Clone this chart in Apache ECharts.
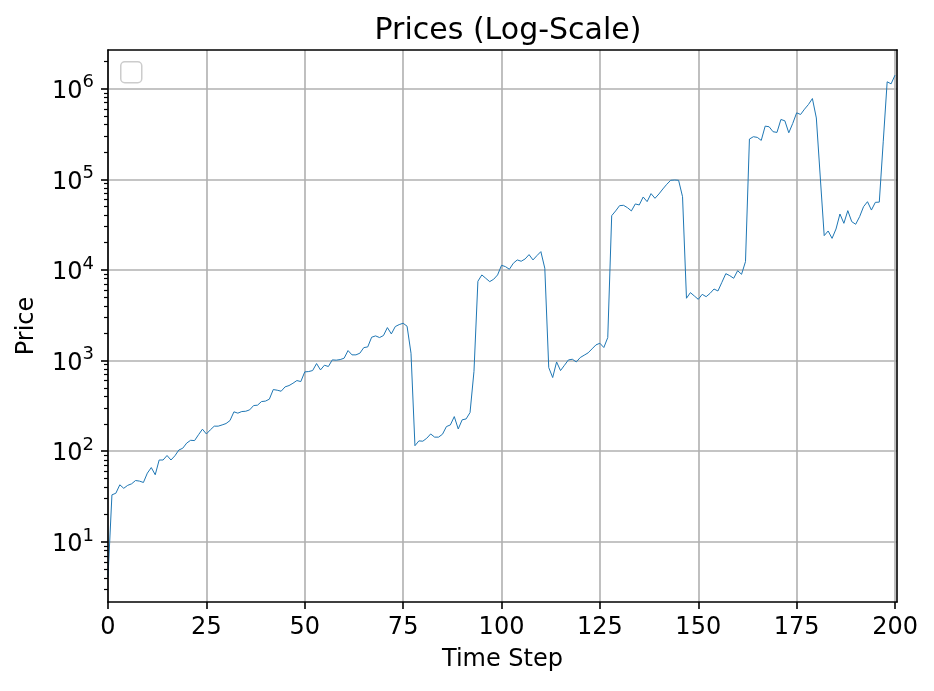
<!DOCTYPE html>
<html>
<head>
<meta charset="utf-8">
<script src="https://cdn.jsdelivr.net/npm/echarts@6/dist/echarts.min.js"></script>
<style>
html,body{margin:0;padding:0;background:#fff;}
#c{width:934px;height:691px;}
</style>
</head>
<body>
<div id="c"></div>
<script>
// ---- data ----
const titleText = 'Prices (Log-Scale)';
const xName = 'Time Step';
const yName = 'Price';
const xTicks = [0, 25, 50, 75, 100, 125, 150, 175, 200];
const yTicks = [10, 100, 1000, 10000, 100000, 1000000];
const prices = [
  4.1, 33, 34.4, 42.6, 39, 42, 43.7, 47.5, 46.8, 45.2,
  57.3, 66, 55, 80, 80, 89.7, 80, 89, 103, 108,
  123, 132, 131, 152, 175, 155, 172, 189, 189, 195,
  202, 218, 272, 263, 274, 276, 286, 319, 322, 353,
  357, 375, 479, 471, 459, 513, 530, 562, 602, 587,
  750, 757, 776, 927, 789, 889, 860, 1018, 1010, 1026,
  1062, 1290, 1156, 1156, 1206, 1390, 1415, 1810, 1872, 1795,
  1888, 2312, 1968, 2373, 2495, 2582, 2393, 1205, 115, 130,
  129, 139, 155, 143, 143, 154, 187, 195, 241, 176,
  222, 227, 267, 760, 7500, 8810, 8090, 7430, 7890, 8810,
  11250, 10880, 10170, 11850, 12890, 12470, 13220, 14760, 12890, 14390,
  15920, 10430, 838, 650, 966, 776, 888, 1016, 1034, 966,
  1080, 1146, 1216, 1346, 1490, 1553, 1393, 1795, 39700, 44770,
  51200, 51640, 48650, 44770, 53460, 52100, 63800, 56700, 69500, 61700,
  68900, 78200, 88100, 97500, 98200, 97500, 64300, 4870, 5620, 5160,
  4740, 5380, 5070, 5520, 6160, 5860, 7300, 9100, 8650, 8090,
  9810, 8950, 12360, 278000, 295000, 290000, 268600, 386000, 380000, 335000,
  329000, 457000, 442000, 326000, 413000, 541000, 519000, 594000, 669000, 778000,
  475000, 106000, 23900, 26900, 22300, 28300, 41400, 32700, 45100, 34100,
  31900, 38700, 49900, 56600, 45800, 55700, 56000, 259000, 1190000, 1130000,
  1410000
];
const steps = prices.map((_, i) => i);

// ---- layout constants ----
const X_MIN = 0, X_MAX = 200.5;
const Y_MIN = 2.17, Y_MAX = 2.67e6;
const FONT = 'DejaVu Sans';

const minorTicks = [];
for (let e = 0; e <= 6; e++) {
  for (let k = 2; k <= 9; k++) {
    const v = k * Math.pow(10, e);
    if (v > Y_MIN && v < Y_MAX) minorTicks.push(v);
  }
}

const chart = echarts.init(document.getElementById('c'), null, {renderer: 'canvas'});
const spine = {show: true, lineStyle: {color: '#000', width: 1.6}};
const off = {show: false};

chart.setOption({
  animation: false,
  backgroundColor: '#fff',
  title: {
    text: titleText,
    left: 503, top: 11, textAlign: 'center',
    textStyle: {fontFamily: FONT, fontSize: 30, fontWeight: 'normal', color: '#000'}
  },
  grid: {left: 108, right: 37, top: 50, bottom: 89, containLabel: false},
  graphic: [{
    type: 'rect', left: 120, top: 61, z: 20,
    shape: {width: 21, height: 21, r: 4},
    style: {fill: 'rgba(255,255,255,0.8)', stroke: '#cccccc', lineWidth: 1.5}
  }],
  xAxis: [
    {
      type: 'value', position: 'bottom', min: X_MIN, max: X_MAX,
      name: xName, nameLocation: 'middle', nameGap: 46,
      nameTextStyle: {fontFamily: FONT, fontSize: 24, color: '#000'},
      axisLine: off,
      axisTick: {show: true, customValues: xTicks, length: 7, lineStyle: {color: '#000', width: 1.6}},
      axisLabel: {show: true, customValues: xTicks, margin: 14, fontFamily: FONT, fontSize: 24, color: '#000'},
      splitLine: {show: true, lineStyle: {color: '#b0b0b0', width: 1.6}}
    },
    {type: 'value', position: 'bottom', min: X_MIN, max: X_MAX, z: 10, axisLine: spine, axisTick: off, axisLabel: off, splitLine: off},
    {type: 'value', position: 'top', min: X_MIN, max: X_MAX, z: 10, axisLine: spine, axisTick: off, axisLabel: off, splitLine: off}
  ],
  yAxis: [
    {
      type: 'log', logBase: 10, position: 'left', min: Y_MIN, max: Y_MAX,
      name: yName, nameLocation: 'middle', nameGap: 69,
      nameTextStyle: {fontFamily: FONT, fontSize: 24, color: '#000'},
      axisLine: off,
      axisTick: {show: true, customValues: yTicks, length: 7, lineStyle: {color: '#000', width: 1.6}},
      axisLabel: {
        show: true, customValues: yTicks, margin: 14,
        formatter: function (v) { return '{b|10}{s|' + Math.round(Math.log10(v)) + '}'; },
        rich: {
          b: {fontFamily: FONT, fontSize: 24, color: '#000', lineHeight: 30, verticalAlign: 'bottom'},
          s: {fontFamily: FONT, fontSize: 18, color: '#000', lineHeight: 30, verticalAlign: 'top'}
        }
      },
      splitLine: {show: true, lineStyle: {color: '#b0b0b0', width: 1.6}}
    },
    {
      type: 'log', logBase: 10, position: 'left', min: Y_MIN, max: Y_MAX,
      axisLine: off,
      axisTick: {show: true, customValues: minorTicks, length: 4, lineStyle: {color: '#000', width: 1.2}},
      axisLabel: off, splitLine: off
    },
    {type: 'log', logBase: 10, position: 'left', min: Y_MIN, max: Y_MAX, z: 10, axisLine: spine, axisTick: off, axisLabel: off, splitLine: off},
    {type: 'log', logBase: 10, position: 'right', min: Y_MIN, max: Y_MAX, z: 10, axisLine: spine, axisTick: off, axisLabel: off, splitLine: off}
  ],
  series: [{
    type: 'line',
    xAxisIndex: 0, yAxisIndex: 0,
    data: steps.map((s, i) => [s, prices[i]]),
    showSymbol: false, symbol: 'none',
    lineStyle: {color: '#1f77b4', width: 1},
    z: 3
  }]
});
</script>
</body>
</html>
